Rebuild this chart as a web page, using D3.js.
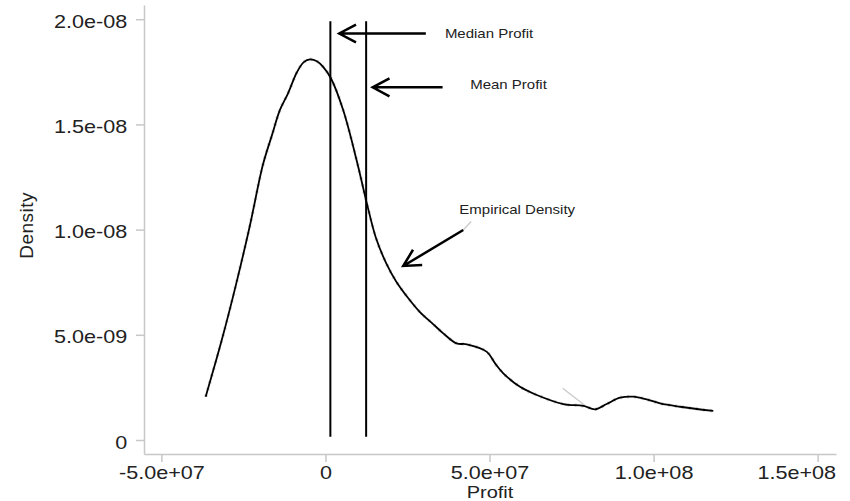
<!DOCTYPE html>
<html lang="en">
  <head>
    <meta charset="UTF-8" />
    <title>Profit density</title>
    <script src="https://d3js.org/d3.v7.min.js"></script>
    <style>
      body {
        margin: 0;
        padding: 0;
        background: #ffffff;
        font-family: Arial, "Liberation Sans", Helvetica, sans-serif;
      }
      .axis path,
      .axis line {
        stroke: #c8c8c8;
        stroke-width: 1.5px;
      }
      .axis text {
        fill: #222;
        font-size: 18px;
      }
      .note {
        fill: #222;
        font-size: 12.5px;
      }
    </style>
  </head>
  <body>
    <div id="chart"></div>

    <script>
      const width = 850;
      const height = 501;

      // empirical density of profit
      const profit = [
        -36.5e6, -31.6e6, -27.3e6, -23.0e6, -19.1e6, -16.3e6, -13.9e6, -11.4e6,
        -8.7e6, -6.6e6, -4.7e6, -2.6e6, -0.7e6, 1.7e6, 5.4e6, 9.5e6, 12.6e6,
        15.4e6, 18.5e6, 21.5e6, 25.2e6, 28.8e6, 32.8e6, 35.9e6, 40.0e6, 43.1e6,
        49.2e6, 51.7e6, 54.2e6, 59.3e6, 64.4e6, 72.5e6, 78.6e6, 82.2e6, 85.7e6,
        89.8e6, 93.8e6, 97.9e6, 102.0e6, 108.1e6, 118.2e6,
      ];
      const density = [
        2.06e-9, 4.75e-9, 7.36e-9, 10.21e-9, 13.06e-9, 14.49e-9, 15.68e-9,
        16.48e-9, 17.48e-9, 17.96e-9, 18.09e-9, 18.0e-9, 17.73e-9, 17.18e-9,
        15.68e-9, 13.3e-9, 11.26e-9, 9.6e-9, 8.41e-9, 7.55e-9, 6.75e-9,
        6.08e-9, 5.51e-9, 5.07e-9, 4.59e-9, 4.55e-9, 4.19e-9, 3.64e-9, 3.17e-9,
        2.53e-9, 2.14e-9, 1.71e-9, 1.62e-9, 1.46e-9, 1.71e-9, 2.01e-9, 2.06e-9,
        1.93e-9, 1.74e-9, 1.58e-9, 1.38e-9,
      ];

      const medianProfit = 1.5e6;
      const meanProfit = 12.4e6;
      const refLineSpan = [0.15e-9, 19.9e-9];

      const xTicks = [-5e7, 0, 5e7, 1e8, 1.5e8];
      const xTickLabels = ["-5.0e+07", "0", "5.0e+07", "1.0e+08", "1.5e+08"];
      const yTicks = [0, 5e-9, 1e-8, 1.5e-8, 2e-8];
      const yTickLabels = ["0", "5.0e-09", "1.0e-08", "1.5e-08", "2.0e-08"];

      // annotations: label, label anchor, arrow tail, arrow tip (data units)
      const noteLabels = ["Median Profit", "Mean Profit", "Empirical Density"];
      const noteAt = [
        [36.4e6, 19.13e-9],
        [44.1e6, 16.66e-9],
        [40.8e6, 10.74e-9],
      ];
      const arrowFrom = [
        [30.6e6, 19.32e-9],
        [35.7e6, 16.76e-9],
        [42.0e6, 9.98e-9],
      ];
      const arrowTo = [
        [4.2e6, 19.32e-9],
        [14.4e6, 16.76e-9],
        [23.7e6, 8.27e-9],
      ];
      // faint grey strokes left over in the original graph
      const greyBits = [
        [[72.3e6, 2.46e-9], [79.6e6, 1.58e-9]],
        [[42.0e6, 9.98e-9], [44.4e6, 10.38e-9]],
      ];

      const x = d3.scaleLinear().domain([-5.53e7, 1.556e8]).range([144, 836]);
      const y = d3.scaleLinear().domain([-6.65e-10, 2.0675e-8]).range([454, 5]);

      const svg = d3
        .select("#chart")
        .append("svg")
        .attr("width", width)
        .attr("height", height);

      // axes
      const xAxis = svg
        .append("g")
        .attr("class", "axis")
        .attr("transform", `translate(0,${y.range()[0]})`)
        .call(
          d3
            .axisBottom(x)
            .tickValues(xTicks)
            .tickFormat((d, i) => xTickLabels[i])
            .tickSizeInner(8)
            .tickSizeOuter(0)
            .tickPadding(4)
        );
      xAxis.selectAll("text").attr("transform", "scale(1.2,1)");
      // last label is pulled in so it stays inside the frame
      xAxis
        .selectAll(".tick:last-of-type text")
        .attr("text-anchor", "end")
        .attr("x", 15);

      const yAxis = svg
        .append("g")
        .attr("class", "axis")
        .attr("transform", `translate(${x.range()[0]},0)`)
        .call(
          d3
            .axisLeft(y)
            .tickValues(yTicks)
            .tickFormat((d, i) => yTickLabels[i])
            .tickSizeInner(8)
            .tickSizeOuter(0)
            .tickPadding(6)
        );
      yAxis
        .selectAll("text")
        .attr("dy", "0.45em")
        .attr("transform", "scale(1.2,1)");

      // axis titles
      svg
        .append("text")
        .attr("transform", `translate(${d3.mean(x.range())},497.5) scale(1.25,1)`)
        .attr("text-anchor", "middle")
        .attr("font-size", "16px")
        .attr("fill", "#222")
        .text("Profit");

      svg
        .append("text")
        .attr("transform", `translate(33,${y(1.02e-8)}) rotate(-90)`)
        .attr("text-anchor", "middle")
        .attr("font-size", "19px")
        .attr("letter-spacing", "0.5px")
        .attr("fill", "#222")
        .text("Density");

      // grey leftovers
      svg
        .selectAll(".grey")
        .data(greyBits)
        .enter()
        .append("line")
        .attr("x1", (d) => x(d[0][0]))
        .attr("y1", (d) => y(d[0][1]))
        .attr("x2", (d) => x(d[1][0]))
        .attr("y2", (d) => y(d[1][1]))
        .attr("stroke", "#cccccc")
        .attr("stroke-width", 1.5);

      // density curve
      const line = d3
        .line()
        .x((d, i) => x(profit[i]))
        .y((d) => y(d))
        .curve(d3.curveCatmullRom.alpha(0.5));

      svg
        .append("path")
        .datum(density)
        .attr("fill", "none")
        .attr("stroke", "#d2d2d2")
        .attr("stroke-width", 3.5)
        .attr("stroke-dasharray", "2,5")
        .attr("d", line);

      svg
        .append("path")
        .datum(density)
        .attr("fill", "none")
        .attr("stroke", "#000")
        .attr("stroke-width", 1.8)
        .attr("d", line);

      // median and mean lines
      svg
        .selectAll(".ref")
        .data([medianProfit, meanProfit])
        .enter()
        .append("line")
        .attr("x1", (d) => x(d))
        .attr("x2", (d) => x(d))
        .attr("y1", y(refLineSpan[0]))
        .attr("y2", y(refLineSpan[1]))
        .attr("stroke", "#000")
        .attr("stroke-width", 2);

      // arrows
      const head = 19;
      const spread = (28 * Math.PI) / 180;
      arrowFrom.forEach((from, i) => {
        const x1 = x(from[0]);
        const y1 = y(from[1]);
        const x2 = x(arrowTo[i][0]);
        const y2 = y(arrowTo[i][1]);
        const a = Math.atan2(y1 - y2, x1 - x2);
        const w1 = [x2 + head * Math.cos(a - spread), y2 + head * Math.sin(a - spread)];
        const w2 = [x2 + head * Math.cos(a + spread), y2 + head * Math.sin(a + spread)];
        svg
          .append("path")
          .attr("d", `M${x1},${y1}L${x2},${y2}M${w1}L${x2},${y2}L${w2}`)
          .attr("fill", "none")
          .attr("stroke", "#000")
          .attr("stroke-width", 2.5);
      });

      svg
        .selectAll(".note")
        .data(noteLabels)
        .enter()
        .append("text")
        .attr("class", "note")
        .attr(
          "transform",
          (d, i) => `translate(${x(noteAt[i][0])},${y(noteAt[i][1])}) scale(1.2,1)`
        )
        .text((d) => d);
    </script>
  </body>
</html>
